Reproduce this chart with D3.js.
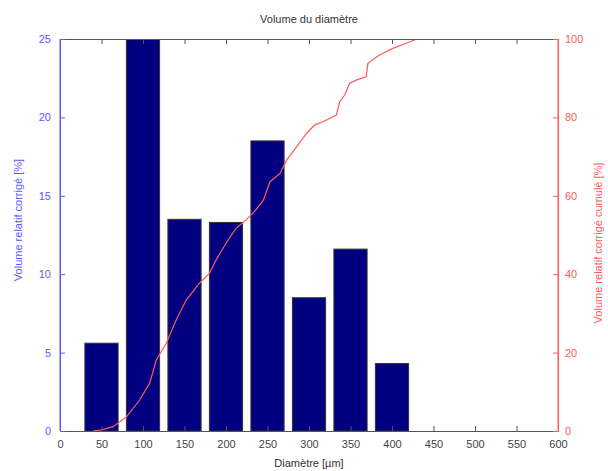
<!DOCTYPE html>
<html>
<head>
<meta charset="utf-8">
<script src="https://cdn.jsdelivr.net/npm/d3@7"></script>
<style>
  html, body { margin: 0; padding: 0; background: #fff; }
  svg { display: block; }
  text { font-family: "Liberation Sans", Arial, Helvetica, sans-serif; font-size: 11px; }
</style>
</head>
<body>
<div id="chart"></div>
<script>
// ---- data ----
const diameters = [50, 100, 150, 200, 250, 300, 350, 400];
const relVolume = [5.6, 25.0, 13.5, 13.3, 18.5, 8.5, 11.6, 4.3];

const cumDiam = [40, 50, 64, 80, 96, 108, 116, 128, 140, 152, 168, 180, 188, 200, 212, 224, 236, 245, 253, 265, 273, 285, 297, 307, 317, 333, 337, 343, 349, 357, 369, 371, 385, 401, 417, 430];
const cumVolume = [0, 0.3, 1.1, 3.6, 7.9, 12.2, 18.1, 22.4, 28.3, 33.4, 37.7, 40.2, 43.6, 47.9, 51.7, 53.8, 56.4, 58.9, 63.6, 65.7, 69.1, 72.5, 75.9, 78.1, 78.9, 80.6, 84.0, 85.7, 88.7, 89.5, 90.4, 93.8, 95.9, 97.6, 98.9, 100];

const xTicks = [0, 50, 100, 150, 200, 250, 300, 350, 400, 450, 500, 550, 600];
const yLeftTicks = [0, 5, 10, 15, 20, 25];
const yRightTicks = [0, 20, 40, 60, 80, 100];

const titleText = "Volume du diamètre";
const xLabel = "Diamètre [µm]";
const yLeftLabel = "Volume relatif corrigé [%]";
const yRightLabel = "Volume relatif corrigé cumulé [%]";

// ---- layout ----
const W = 608, H = 471;
const m = { left: 60, right: 50, top: 39, bottom: 40 };
const iw = W - m.left - m.right, ih = H - m.top - m.bottom;

const blue = "#5a5aff", red = "#ff5a5a";

const svg = d3.select("#chart").append("svg").attr("width", W).attr("height", H);
const g = svg.append("g").attr("transform", `translate(${m.left},${m.top})`);

const x = d3.scaleLinear().domain([0, 600]).range([0, iw]);
const yL = d3.scaleLinear().domain([0, 25]).range([ih, 0]);
const yR = d3.scaleLinear().domain([0, 100]).range([ih, 0]);

const barW = 40; // data units (0.8 * 50)

// clip
svg.append("defs").append("clipPath").attr("id", "clip")
  .append("rect").attr("width", iw).attr("height", ih);

// bars
g.append("g").attr("clip-path", "url(#clip)")
  .selectAll("rect").data(diameters).join("rect")
  .attr("x", (d) => x(d - barW / 2))
  .attr("width", x(barW) - x(0))
  .attr("y", (d, i) => yL(relVolume[i]))
  .attr("height", (d, i) => ih - yL(relVolume[i]))
  .attr("fill", "#000080")
  .attr("stroke", "#333")
  .attr("stroke-width", 1);

// cumulative line
const line = d3.line().x((d, i) => x(cumDiam[i])).y((d) => yR(d));
g.append("path").datum(cumVolume)
  .attr("d", line)
  .attr("fill", "none")
  .attr("stroke", red)
  .attr("stroke-width", 1.2)
  .attr("clip-path", "url(#clip)");

// x axes (bottom & top), black
const xb = g.append("g").attr("transform", `translate(0,${ih})`)
  .call(d3.axisBottom(x).tickValues(xTicks).tickSizeInner(-5).tickSizeOuter(0).tickPadding(9));
const xt = g.append("g")
  .call(d3.axisTop(x).tickValues(xTicks).tickSizeInner(-5).tickSizeOuter(0).tickFormat(""));
[xb, xt].forEach(a => {
  a.select(".domain").attr("stroke", "#555");
  a.selectAll(".tick line").attr("stroke", "#555");
  a.selectAll("text").attr("fill", "#444").style("font-size", "11px");
});

// left axis, blue
const yl = g.append("g")
  .call(d3.axisLeft(yL).tickValues(yLeftTicks).tickSizeInner(-5).tickSizeOuter(0).tickPadding(9));
yl.select(".domain").attr("stroke", blue);
yl.selectAll(".tick line").attr("stroke", blue);
yl.selectAll("text").attr("fill", blue).style("font-size", "11px");

// right axis, red
const yr = g.append("g").attr("transform", `translate(${iw},0)`)
  .call(d3.axisRight(yR).tickValues(yRightTicks).tickSizeInner(-5).tickSizeOuter(0).tickPadding(7));
yr.select(".domain").attr("stroke", red);
yr.selectAll(".tick line").attr("stroke", red);
yr.selectAll("text").attr("fill", red).style("font-size", "11px");

// redraw left/right spines on top of x axes
g.append("line").attr("x1", 0).attr("x2", 0).attr("y1", 0).attr("y2", ih).attr("stroke", blue);
g.append("line").attr("x1", iw).attr("x2", iw).attr("y1", 0).attr("y2", ih).attr("stroke", red);

// title & labels
svg.append("text").attr("x", m.left + iw / 2).attr("y", 23)
  .attr("text-anchor", "middle").attr("fill", "#333").text(titleText);
svg.append("text").attr("x", m.left + iw / 2).attr("y", 467)
  .attr("text-anchor", "middle").attr("fill", "#333").text(xLabel);
svg.append("text")
  .attr("transform", `translate(22,${m.top + ih / 2 - 15}) rotate(-90)`)
  .attr("text-anchor", "middle").attr("fill", blue).text(yLeftLabel);
svg.append("text")
  .attr("transform", `translate(602,${m.top + ih / 2 + 8}) rotate(-90)`)
  .attr("text-anchor", "middle").attr("fill", red).text(yRightLabel);
</script>
</body>
</html>
